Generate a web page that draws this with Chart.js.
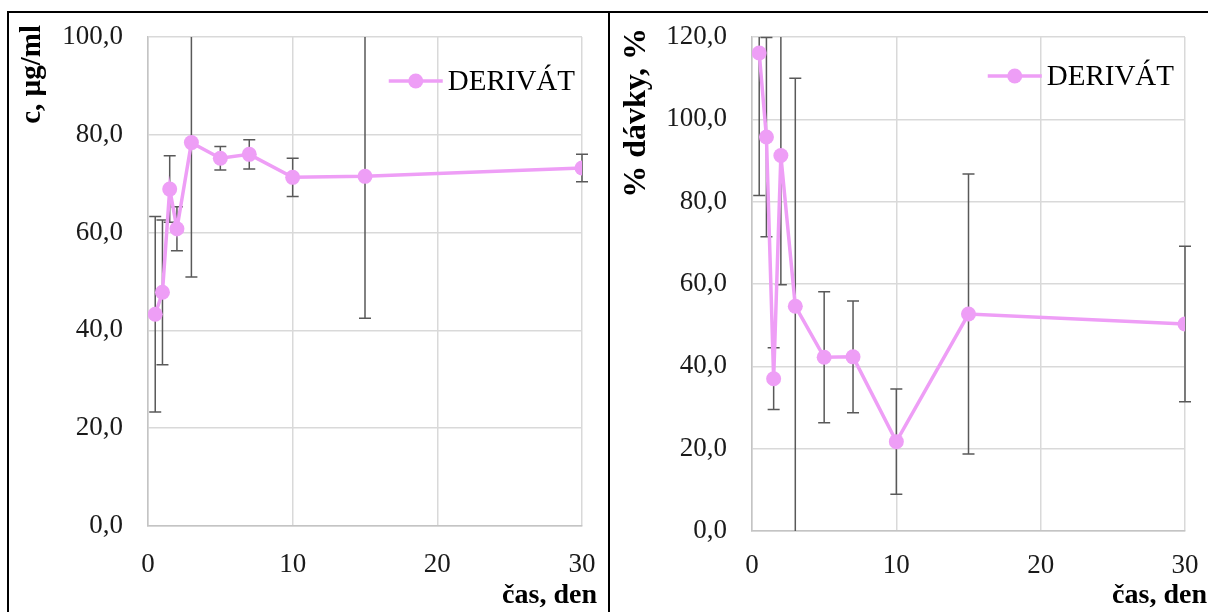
<!DOCTYPE html>
<html>
<head>
<meta charset="utf-8">
<script src="https://cdn.jsdelivr.net/npm/chart.js"></script>
<style>
  body { margin: 0; background: #fff; width: 1208px; height: 612px; overflow: hidden; position: relative; }
  #frame { position: absolute; left: 7px; top: 11px; width: 1300px; height: 700px; border-left: 2px solid #000; border-top: 2px solid #000; }
  #divider { position: absolute; left: 608px; top: 11px; width: 2px; height: 700px; background: #000; }
  #chartLeft { position: absolute; left: 9px; top: 13px; }
  #chartRight { position: absolute; left: 610px; top: 13px; }
</style>
</head>
<body>
<div id="frame"></div>
<div id="divider"></div>
<canvas id="chartLeft" width="599" height="599"></canvas>
<canvas id="chartRight" width="598" height="599"></canvas>
<script>
// sampling days
var days = [0.5, 1, 1.5, 2, 3, 5, 7, 10, 15, 30];
// concentration, ug/ml (mean and SD)
var concValues = [43.3, 47.8, 68.9, 60.8, 78.4, 75.2, 76.0, 71.3, 71.5, 73.2];
var concSd = [20.0, 14.8, 6.8, 4.5, 27.5, 2.4, 3.0, 3.9, 29.0, 2.8];
// percent of dose (mean and SD)
var doseValues = [116.1, 95.7, 37.0, 91.2, 54.6, 42.2, 42.3, 21.7, 52.7, 50.3];
var doseSd = [34.6, 24.2, 7.5, 31.4, 55.4, 15.9, 13.6, 12.8, 34.0, 18.9];

var xTicks = [0, 10, 20, 30];
var concTicks = [0, 20, 40, 60, 80, 100];
var doseTicks = [0, 20, 40, 60, 80, 100, 120];
var seriesName = 'DERIVÁT';

var SERIF = '"Liberation Serif", "Times New Roman", serif';
var PINK = '#EE9EF6';
var GRID = '#d9d9d9';

Chart.defaults.font.family = SERIF;
Chart.defaults.color = '#1a1a1a';

// vertical error bars, clipped to the plot area
var errorBars = {
  id: 'errorBars',
  beforeDatasetsDraw: function(chart) {
    var ctx = chart.ctx, ca = chart.chartArea;
    var xs = chart.scales.x, ys = chart.scales.y;
    ctx.save();
    ctx.strokeStyle = '#595959';
    ctx.lineWidth = 1.5;
    chart.data.datasets.forEach(function(ds) {
      if (!ds.errors) return;
      ds.data.forEach(function(p, i) {
        var e = ds.errors[i];
        var px = xs.getPixelForValue(p.x);
        var top = ys.getPixelForValue(p.y + e);
        var bot = ys.getPixelForValue(p.y - e);
        var t = Math.max(top, ca.top), b = Math.min(bot, ca.bottom);
        ctx.beginPath();
        ctx.moveTo(px, t);
        ctx.lineTo(px, b);
        if (top >= ca.top - 1) { ctx.moveTo(px - 6, top); ctx.lineTo(px + 6, top); }
        if (bot <= ca.bottom + 1) { ctx.moveTo(px - 6, bot); ctx.lineTo(px + 6, bot); }
        ctx.stroke();
      });
    });
    ctx.restore();
  }
};

// axis titles and the in-plot legend
var decor = {
  id: 'decor',
  afterDraw: function(chart, args, o) {
    var ctx = chart.ctx, ca = chart.chartArea;
    ctx.save();
    ctx.fillStyle = '#000';
    ctx.font = 'bold ' + o.yTitleSize + 'px ' + SERIF;
    ctx.textBaseline = 'middle';
    ctx.save();
    ctx.translate(o.yTitleX, o.yTitleTop);
    ctx.rotate(-Math.PI / 2);
    ctx.textAlign = 'right';
    ctx.fillText(o.yTitle, 0, 0);
    ctx.restore();

    ctx.font = 'bold 28px ' + SERIF;
    ctx.textBaseline = 'alphabetic';
    ctx.textAlign = 'right';
    ctx.fillText(o.xTitle, o.xTitleRight, o.xTitleBase);

    // legend: line + marker + label
    var label = chart.data.datasets[0].label;
    ctx.font = '29px ' + SERIF;
    var tw = ctx.measureText(label).width;
    var tx = ca.right - o.legendRight - tw;
    var ly = ca.top + o.legendDy;
    ctx.strokeStyle = PINK;
    ctx.lineWidth = 3.5;
    ctx.beginPath();
    ctx.moveTo(tx - 59, ly);
    ctx.lineTo(tx - 5, ly);
    ctx.stroke();
    ctx.fillStyle = PINK;
    ctx.beginPath();
    ctx.arc(tx - 32, ly, 7.5, 0, Math.PI * 2);
    ctx.fill();
    ctx.fillStyle = '#000';
    ctx.textAlign = 'left';
    ctx.textBaseline = 'middle';
    ctx.fillText(label, tx, ly + 1);
    ctx.restore();
  }
};

function fmt(v) { return v.toFixed(1).replace('.', ','); }

function makeChart(id, values, sd, yTicks, yMax, cfg) {
  var pts = days.map(function(d, i) { return { x: d, y: values[i] }; });
  return new Chart(document.getElementById(id), {
    type: 'line',
    data: {
      datasets: [{
        label: seriesName,
        data: pts,
        errors: sd,
        borderColor: PINK,
        backgroundColor: PINK,
        borderWidth: 3.5,
        pointRadius: 7.5,
        pointBorderWidth: 0,
        pointBackgroundColor: PINK,
        tension: 0
      }]
    },
    options: {
      responsive: false,
      animation: false,
      layout: { padding: { top: 24, right: cfg.padRight, left: 0, bottom: 0 } },
      plugins: {
        legend: { display: false },
        tooltip: { enabled: false },
        decor: cfg.decor
      },
      scales: {
        x: {
          type: 'linear',
          min: 0, max: 30,
          afterBuildTicks: function(s) { s.ticks = xTicks.map(function(v) { return { value: v }; }); },
          afterFit: function(s) { s.height = cfg.xHeight; s.paddingLeft = 0; s.paddingRight = 0; },
          grid: { color: GRID, lineWidth: 1.5, drawTicks: false },
          border: { color: '#c4c4c4', width: 1.5 },
          ticks: { font: { size: 27 }, padding: cfg.xPad, maxRotation: 0 }
        },
        y: {
          min: 0, max: yMax,
          afterBuildTicks: function(s) { s.ticks = yTicks.map(function(v) { return { value: v }; }); },
          afterFit: function(s) { s.width = cfg.yWidth; s.paddingTop = 0; s.paddingBottom = 0; },
          grid: { color: GRID, lineWidth: 1.5, drawTicks: false },
          border: { color: '#c4c4c4', width: 1.5 },
          ticks: { font: { size: 27 }, padding: 25, callback: function(v) { return fmt(v); } }
        }
      }
    },
    plugins: [errorBars, decor]
  });
}

makeChart('chartLeft', concValues, concSd, concTicks, 100, {
  padRight: 26, xHeight: 86, yWidth: 139, xPad: 23,
  decor: { yTitle: 'c, µg/ml', yTitleSize: 29, yTitleX: 24, yTitleTop: 12,
           xTitle: 'čas, den', xTitleRight: 588, xTitleBase: 590,
           legendRight: 7, legendDy: 44 }
});

makeChart('chartRight', doseValues, doseSd, doseTicks, 120, {
  padRight: 23, xHeight: 81, yWidth: 142, xPad: 19,
  decor: { yTitle: '% dávky, %', yTitleSize: 32, yTitleX: 27, yTitleTop: 15,
           xTitle: 'čas, den', xTitleRight: 597, xTitleBase: 590,
           legendRight: 11, legendDy: 39 }
});
</script>
</body>
</html>
